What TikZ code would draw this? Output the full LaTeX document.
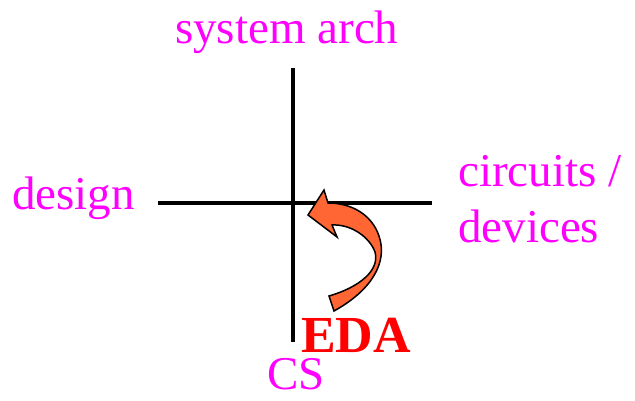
\documentclass[tikz,border=0pt]{standalone}
\usepackage{fontspec}
\setmainfont{Liberation Serif}
\usepackage{xcolor}
\usepackage{tikz}
\usetikzlibrary{calc}
\definecolor{edaorange}{RGB}{255,102,51}
\definecolor{lblpink}{RGB}{255,0,255}
\definecolor{edared}{RGB}{255,0,0}
\tikzset{lbl/.style={lblpink, anchor=base west, inner sep=0pt, font=\fontsize{47}{56}\selectfont}}
\tikzset{axis/.style={line width=3.5pt}}

\begin{document}
\begin{tikzpicture} [x=1pt,y=-1pt]
\useasboundingbox (0,0) rectangle (635,401);
\coordinate (top) at (293,68);
\coordinate (bot) at (293,342);
\coordinate (lft) at (158,203);
\coordinate (rgt) at (432,203);
\draw [axis] (top) -- (bot);
\draw [axis] (lft) -- (rgt);
\node [lbl] (arch) at (175,44) {system arch};
\node [lbl] (design) at (12,210) {design};
\node [lbl] (circ) at (458,187) {circuits /};
\node [lbl] (dev) at (458,243) {devices};
\node [lbl, edared, font=\fontsize{52}{60}\selectfont\bfseries] (eda) at (301,352) {EDA};
\node [lbl] (cs) at (267,389) {CS};
\draw [fill=edaorange, line width=1.5pt, line join=miter] (329,296) -- (334,311)
  .. controls (372,290) and (388,262) .. (379,236)
  .. controls (372,215) and (352,203) .. (328,203)
  -- (324,190) -- (308,215) -- (337,237) -- (332,225)
  .. controls (352,224) and (370,238) .. (375,252)
  .. controls (380,270) and (360,287) .. cycle;
\end{tikzpicture}
\end{document}
